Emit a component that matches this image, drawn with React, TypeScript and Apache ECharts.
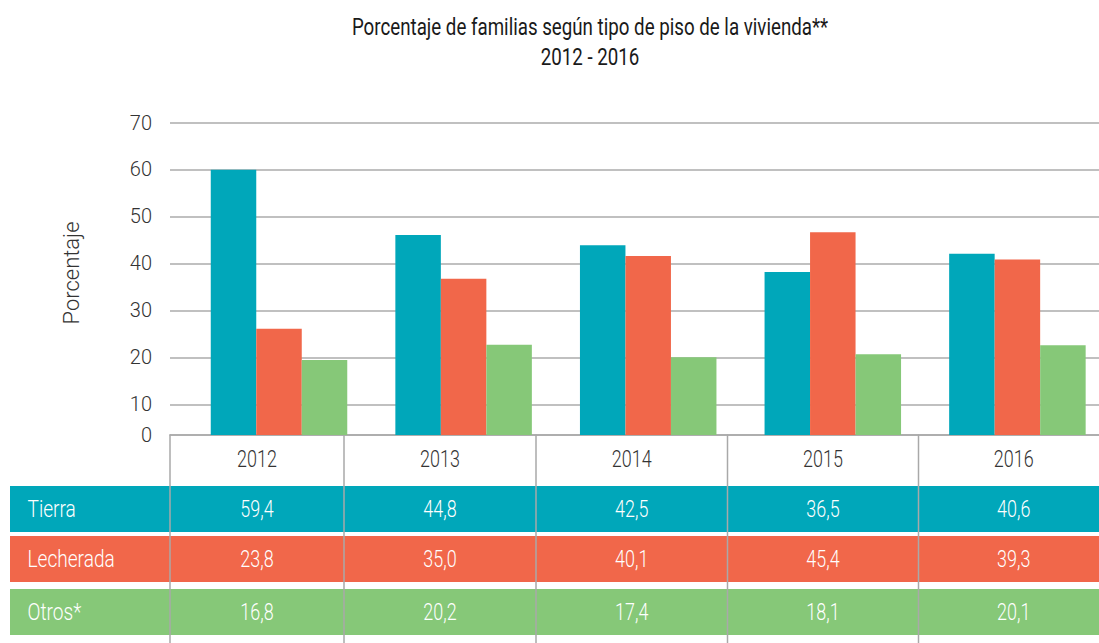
import React, { useEffect, useRef } from "react";
import * as echarts from "echarts";

const years = ["2012", "2013", "2014", "2015", "2016"];
const seriesNames = ["Tierra", "Lecherada", "Otros*"];
const tierra = [59.4, 44.8, 42.5, 36.5, 40.6];
const lecherada = [23.8, 35.0, 40.1, 45.4, 39.3];
const otros = [16.8, 20.2, 17.4, 18.1, 20.1];
const colors = ["#00A7BA", "#F1674A", "#86C878"];
const titleLines = ["Porcentaje de familias según tipo de piso de la vivienda**", "2012 - 2016"];
const yAxisName = "Porcentaje";

const NARROW = "Roboto, sans-serif";
const SX = 0.78;

export default function App() {
  const ref = useRef<HTMLDivElement>(null);
  useEffect(() => {
    if (!ref.current) return;
    const chart = echarts.init(ref.current, undefined, { renderer: "svg" });
    const allSeries = [tierra, lecherada, otros];
    const fmt = (v: number) => v.toFixed(1).replace(".", ",");

    const narrowText = (
      text: string,
      x: number,
      y: number,
      fill: string,
      align: string,
      size = 23,
      weight = 300,
      sx = SX
    ) => ({
      type: "text",
      x,
      y,
      scaleX: sx,
      style: {
        text,
        fill,
        font: `${weight} ${size}px ${NARROW}`,
        align,
        verticalAlign: "middle",
      },
      silent: true,
    });

    // table layout
    const colEdges = [170, 344, 536, 727.5, 918.5, 1109];
    const rowTops = [486, 536, 589];
    const rowH = 46;
    const graphics: any[] = [];
    allSeries.forEach((arr, r) => {
      graphics.push({
        type: "rect",
        shape: { x: 10, y: rowTops[r], width: 1100, height: rowH },
        style: { fill: colors[r] },
        silent: true,
      });
      graphics.push(narrowText(seriesNames[r], 27.5, rowTops[r] + rowH / 2, "#ffffff", "left", 23, 300, 0.83));
      arr.forEach((v, i) => {
        graphics.push(
          narrowText(fmt(v), (colEdges[i] + colEdges[i + 1]) / 2, rowTops[r] + rowH / 2, "#ffffff", "center")
        );
      });
    });
    years.forEach((y, i) => {
      graphics.push(narrowText(y, (colEdges[i] + colEdges[i + 1]) / 2, 459, "#333333", "center"));
    });
    colEdges.slice(0, 5).forEach((x) => {
      graphics.push({
        type: "line",
        shape: { x1: x, y1: 434.5, x2: x, y2: 643 },
        style: { stroke: "#a9a9a9", lineWidth: 1.5 },
        silent: true,
      });
    });
    graphics.push({
      type: "text",
      x: 71,
      y: 273,
      rotation: Math.PI / 2,
      style: {
        text: yAxisName,
        fill: "#333333",
        font: `300 22px ${NARROW}`,
        align: "center",
        verticalAlign: "middle",
      },
      silent: true,
    });
    graphics.push(narrowText(titleLines[0], 590, 27, "#1a1a1a", "center", 24, 400));
    graphics.push(narrowText(titleLines[1], 590, 57, "#1a1a1a", "center", 24, 400));

    chart.setOption({
      animation: false,
      grid: { left: 170, right: 0, top: 122.5, bottom: 208 },
      xAxis: {
        type: "value",
        min: -0.5905,
        max: 4.442,
        axisLine: { show: true, onZero: false, lineStyle: { color: "#a9a9a9", width: 1.5 } },
        axisTick: { show: false },
        axisLabel: { show: false },
        splitLine: { show: false },
      },
      yAxis: [
        {
          type: "value",
          min: 0,
          max: 70,
          show: false,
        },
        {
          type: "value",
          min: 3.46,
          max: 70,
          splitNumber: 7,
          position: "left",
          axisLine: { show: false },
          axisTick: { show: false },
          axisLabel: {
            margin: 18,
            fontSize: 20,
            fontWeight: 300,
            color: "#333333",
            fontFamily: NARROW,
            formatter: (v: number) => (v < 10 ? "0" : String(Math.round(v))),
          },
          splitLine: { show: true, lineStyle: { color: "#ababab", width: 1.5 } },
        },
      ],
      series: allSeries.map((arr, s) => ({
        type: "bar",
        name: seriesNames[s],
        yAxisIndex: 0,
        data: arr.map((v, i) => [i, v]),
        barWidth: 45.5,
        barGap: "0%",
        itemStyle: { color: colors[s] },
      })),
      graphic: graphics,
    });
    return () => chart.dispose();
  }, []);
  return (
    <div
      ref={ref}
      style={{ position: "fixed", left: 0, top: 0, width: 1099, height: 643, background: "#fff" }}
    />
  );
}
